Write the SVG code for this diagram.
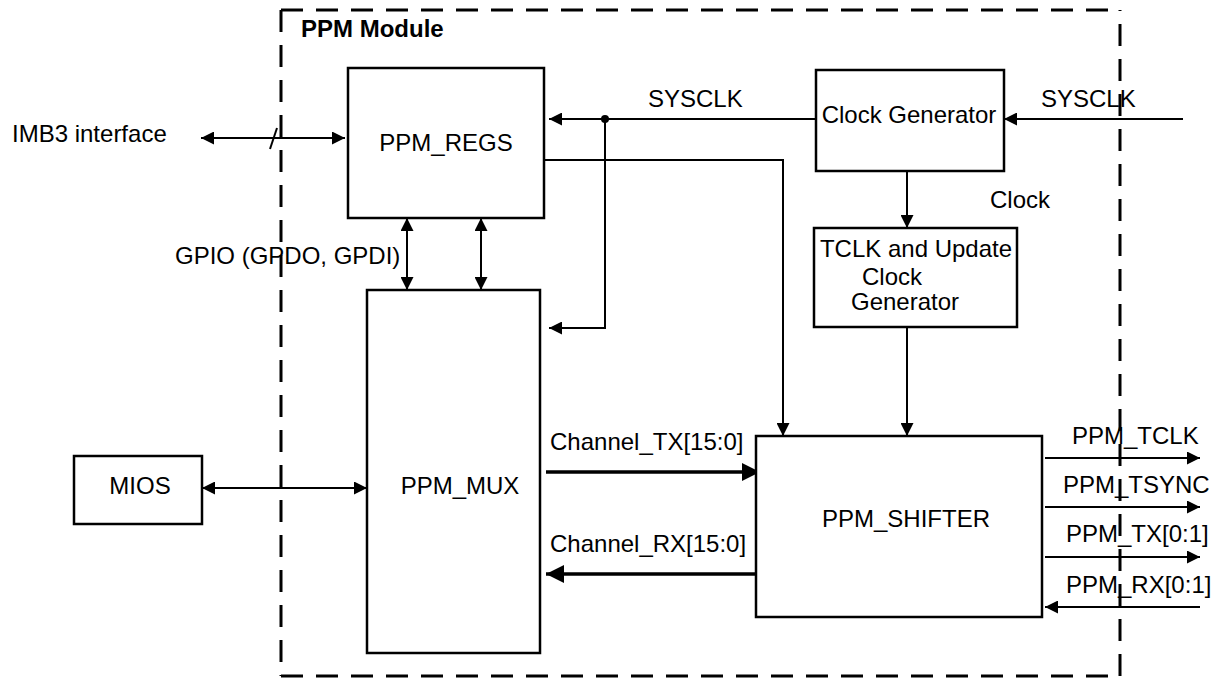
<svg xmlns="http://www.w3.org/2000/svg" width="1217" height="679" viewBox="0 0 1217 679">
<style>
text{font-family:"Liberation Sans",Arial,sans-serif;font-size:24px;fill:#000}
.b{font-weight:bold}
.box{fill:#fff;stroke:#000;stroke-width:2.5}
.ln{fill:none;stroke:#000;stroke-width:2}
.thk{fill:none;stroke:#000;stroke-width:3.5}
.dash{fill:none;stroke:#000;stroke-width:3;stroke-dasharray:22 13}
</style>
<defs>
<marker id="ah" viewBox="0 0 10 10" refX="10" refY="5" markerWidth="14" markerHeight="13" markerUnits="userSpaceOnUse" orient="auto-start-reverse"><path d="M0,0 L10,5 L0,10 z" fill="#000"/></marker>
<marker id="ahb" viewBox="0 0 10 10" refX="10" refY="5" markerWidth="18" markerHeight="18" markerUnits="userSpaceOnUse" orient="auto-start-reverse"><path d="M0,0 L10,5 L0,10 z" fill="#000"/></marker>
</defs>
<rect width="1217" height="679" fill="#fff"/>
<g id="ppm-module">
<path class="dash" d="M281,10 L1120,10"/>
<path class="dash" d="M281,10 L281,676"/>
<path class="dash" d="M281,676 L1120,676"/>
<path class="dash" d="M1120,676 L1120,10"/>
<text class="b" x="301" y="37">PPM Module</text>
</g>
<g id="connectors">
<line class="ln" x1="201" y1="138" x2="345" y2="138" marker-start="url(#ah)" marker-end="url(#ah)"/>
<line class="ln" x1="270" y1="149" x2="277" y2="128"/>
<line class="ln" x1="816" y1="119" x2="549" y2="119" marker-end="url(#ah)"/>
<circle cx="605" cy="119" r="4" fill="#000"/>
<polyline class="ln" points="605,119 605,328 549,328" marker-end="url(#ah)"/>
<line class="ln" x1="1183" y1="119" x2="1004" y2="119" marker-end="url(#ah)"/>
<polyline class="ln" points="544,160 783,160 783,436" marker-end="url(#ah)"/>
<line class="ln" x1="907" y1="168" x2="907" y2="228" marker-end="url(#ah)"/>
<line class="ln" x1="907" y1="327" x2="907" y2="436" marker-end="url(#ah)"/>
<line class="ln" x1="407" y1="218" x2="407" y2="290" marker-start="url(#ah)" marker-end="url(#ah)"/>
<line class="ln" x1="481" y1="218" x2="481" y2="290" marker-start="url(#ah)" marker-end="url(#ah)"/>
<line class="ln" x1="202" y1="488" x2="367" y2="488" marker-start="url(#ah)" marker-end="url(#ah)"/>
<line class="thk" x1="546" y1="472" x2="760" y2="472" marker-end="url(#ahb)"/>
<line class="thk" x1="762" y1="574" x2="546" y2="574" marker-end="url(#ahb)"/>
<line class="ln" x1="1045" y1="458" x2="1200" y2="458" marker-end="url(#ah)"/>
<line class="ln" x1="1045" y1="507" x2="1200" y2="507" marker-end="url(#ah)"/>
<line class="ln" x1="1045" y1="557" x2="1200" y2="557" marker-end="url(#ah)"/>
<line class="ln" x1="1200" y1="607" x2="1045" y2="607" marker-end="url(#ah)"/>
<text x="12" y="142">IMB3 interface</text>
<text x="175" y="264">GPIO (GPDO, GPDI)</text>
<text x="648" y="107">SYSCLK</text>
<text x="1041" y="107">SYSCLK</text>
<text x="990" y="208">Clock</text>
<text x="550" y="450">Channel_TX[15:0]</text>
<text x="550" y="552">Channel_RX[15:0]</text>
<text x="1072" y="444">PPM_TCLK</text>
<text x="1063" y="493">PPM_TSYNC</text>
<text x="1066" y="542">PPM_TX[0:1]</text>
<text x="1066" y="593">PPM_RX[0:1]</text>
</g>
<g id="ppm-regs">
<rect class="box" x="348" y="68" width="196" height="150"/>
<text x="446" y="151" text-anchor="middle">PPM_REGS</text>
</g>
<g id="clock-generator">
<rect class="box" x="816" y="70" width="188" height="101"/>
<text x="909" y="123" text-anchor="middle">Clock Generator</text>
</g>
<g id="tclk-generator">
<rect class="box" x="814" y="228" width="203" height="99"/>
<text x="916" y="257" text-anchor="middle">TCLK and Update</text>
<text x="892" y="285" text-anchor="middle">Clock</text>
<text x="905" y="310" text-anchor="middle">Generator</text>
</g>
<g id="ppm-mux">
<rect class="box" x="367" y="290" width="173" height="363"/>
<text x="460" y="494" text-anchor="middle">PPM_MUX</text>
</g>
<g id="mios">
<rect class="box" x="74" y="456" width="128" height="68"/>
<text x="140" y="494" text-anchor="middle">MIOS</text>
</g>
<g id="ppm-shifter">
<rect class="box" x="756" y="436" width="286" height="181"/>
<text x="906" y="527" text-anchor="middle">PPM_SHIFTER</text>
</g>
</svg>
